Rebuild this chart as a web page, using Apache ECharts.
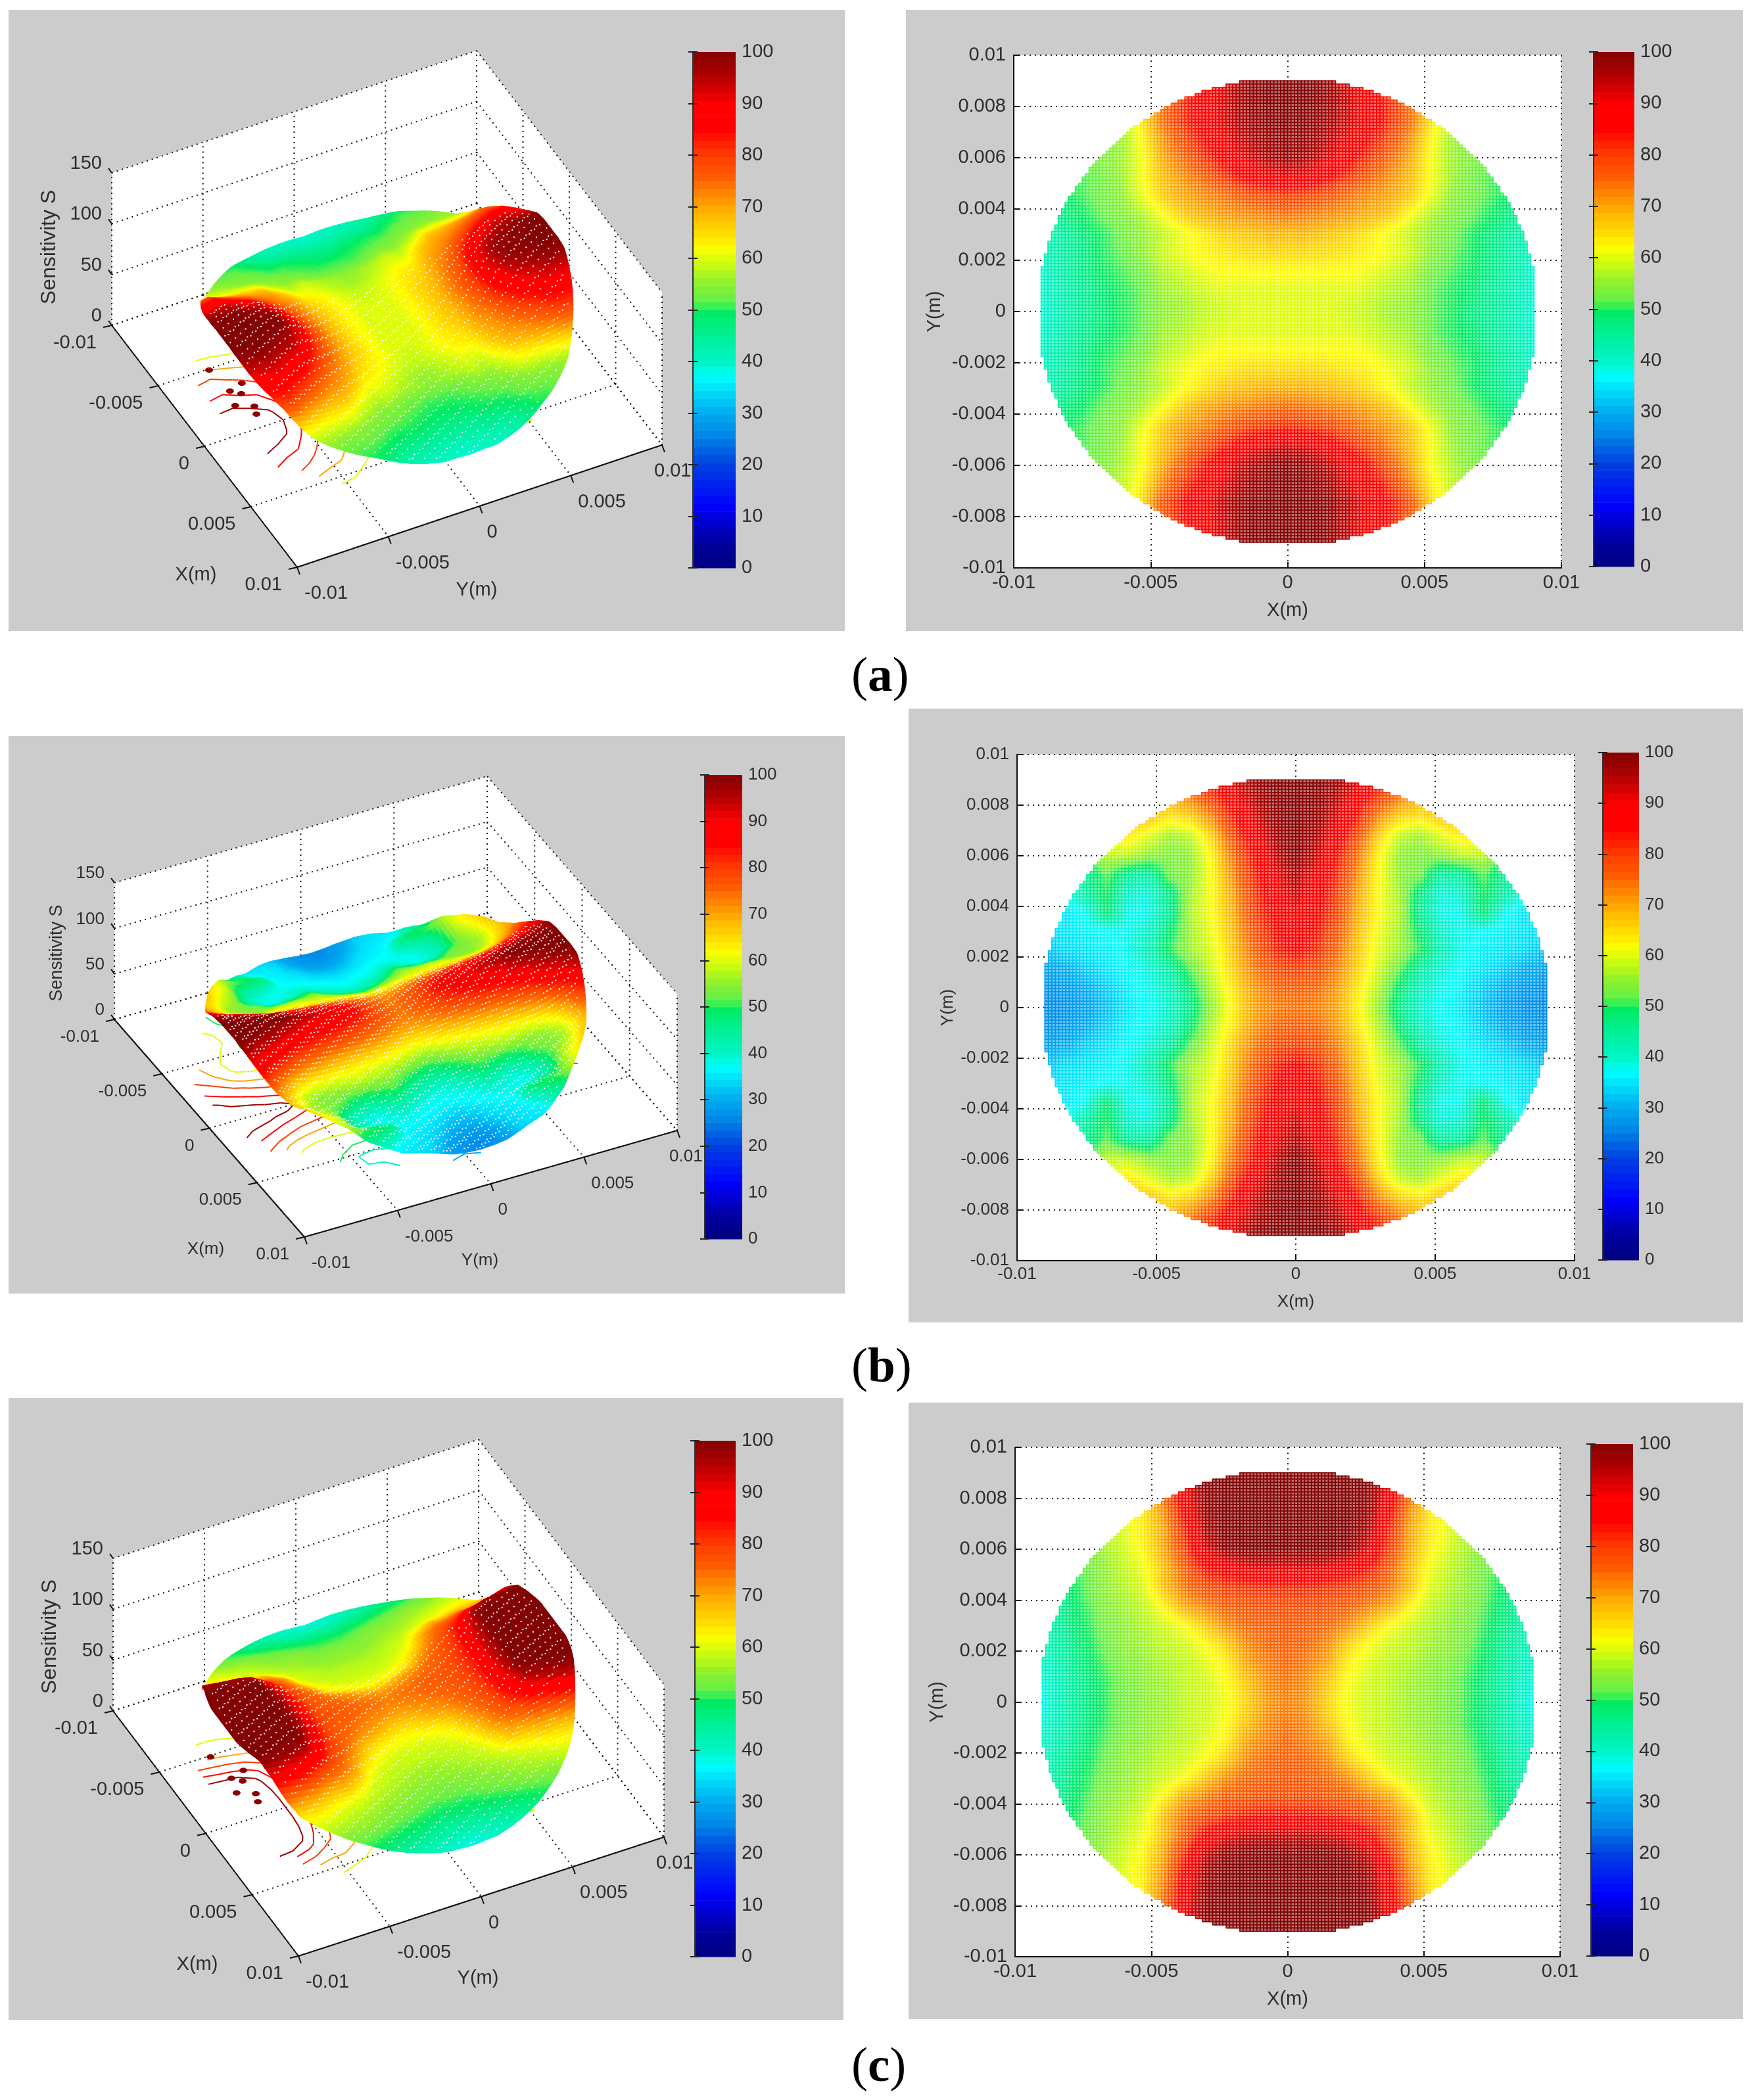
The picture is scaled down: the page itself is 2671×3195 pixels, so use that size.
<!DOCTYPE html>
<html><head><meta charset="utf-8">
<style>html,body{margin:0;background:#fff}#c{width:2671px;height:3195px}</style>
<script src="https://cdn.jsdelivr.net/npm/echarts@6/dist/echarts.min.js"></script>
</head><body><div id="c"></div>
<script>
// Axis ticks
const xTicks = [-0.01, -0.005, 0, 0.005, 0.01];
const zTicks = [0, 50, 100, 150];
const tickLabel = v => String(+(+v).toFixed(3));
// Sample positions of the read-off sensitivity values (metres); rows run from Y=+0.009 to Y=-0.009
const nodes = [-0.009,-0.00825,-0.0075,-0.00675,-0.006,-0.00525,-0.0045,-0.00375,-0.003,-0.00225,-0.0015,-0.00075,0,0.00075,0.0015,0.00225,0.003,0.00375,0.0045,0.00525,0.006,0.00675,0.0075,0.00825,0.009];
const discRadius = 0.0091;
// Colour bar
const cmapStops = [0,5,12,20,25,30,37,40,45,49,50.5,52,55,58,62,66,70,75,80,85,90,93,96,100];
const cmapColors = ['#00007f','#00009f','#0000ff','#0040e0','#0080e6','#00aaf0','#00ffff','#00f5c8','#00f096','#00eb64','#28f05a','#64f046','#8cf032','#befa14','#ffff00','#ffd200','#ffa500','#ff6400','#ff3c00','#ff0000','#ff0000','#d20000','#aa0000','#820000'];
// Sensitivity, panel (a)
const fieldA = [
[50,50,52,54,56,60,68,78,86,92,98,100,100,100,98,92,86,78,68,60,56,54,52,50,50],
[50,50,52,54,56,64,74,82,88,93,98,100,100,100,98,93,88,82,74,64,56,54,52,50,50],
[49,50,52,54,56,65,75,82,88,93,97,99,100,99,97,93,88,82,75,65,56,54,52,50,49],
[49,50,52,54,56,63,72,79,85,91,95,98,99,98,95,91,85,79,72,63,56,54,52,50,49],
[48,50,52,54,56,62,70,75,81,87,92,96,98,96,92,87,81,75,70,62,56,54,52,50,48],
[47,49,51,53,56,62,68,72,76,81,86,90,91,90,86,81,76,72,68,62,56,53,51,49,47],
[45,48,51,53,55,61,67,70,72,74,77,79,80,79,77,74,72,70,67,61,55,53,51,48,45],
[43,46,49,52,54,57,62,67,69,71,72,73,74,73,72,71,69,67,62,57,54,52,49,46,43],
[42,44,47,50,53,55,58,61,64,66,67,68,68,68,67,66,64,61,58,55,53,50,47,44,42],
[41,43,46,50,52,55,59,61,63,64,65,65,65,65,65,64,63,61,59,55,52,50,46,43,41],
[40,43,46,49,51,53,57,59,61,62,62,62,62,62,62,62,61,59,57,53,51,49,46,43,40],
[40,42,45,48,50,52,56,57,59,60,60,60,60,60,60,60,59,57,56,52,50,48,45,42,40],
[39,42,45,47,50,52,55,56,58,59,60,60,60,60,60,59,58,56,55,52,50,47,45,42,39],
[40,42,45,48,50,52,56,57,59,60,60,60,60,60,60,60,59,57,56,52,50,48,45,42,40],
[40,43,46,49,51,53,57,59,61,62,62,62,62,62,62,62,61,59,57,53,51,49,46,43,40],
[41,43,46,50,52,55,59,61,63,64,65,65,65,65,65,64,63,61,59,55,52,50,46,43,41],
[42,44,47,50,53,55,58,62,65,67,68,69,69,69,68,67,65,62,58,55,53,50,47,44,42],
[43,46,49,52,54,57,62,67,70,72,73,74,75,74,73,72,70,67,62,57,54,52,49,46,43],
[45,48,51,53,55,61,67,71,73,76,79,81,82,81,79,76,73,71,67,61,55,53,51,48,45],
[47,49,51,53,56,62,68,73,78,83,88,92,93,92,88,83,78,73,68,62,56,53,51,49,47],
[48,50,52,54,57,62,70,77,84,90,95,98,100,98,95,90,84,77,70,62,57,54,52,50,48],
[49,50,52,54,58,64,73,81,87,92,97,99,100,99,97,92,87,81,73,64,58,54,52,50,49],
[49,50,52,54,58,66,78,85,90,95,99,100,100,100,99,95,90,85,78,66,58,54,52,50,49],
[50,50,52,54,57,64,76,84,89,94,99,100,100,100,99,94,89,84,76,64,57,54,52,50,50],
[50,50,52,54,56,60,70,80,88,94,99,100,100,100,99,94,88,80,70,60,56,54,52,50,50]];
// Sensitivity, panel (b)
const fieldB = [
[56,58,60,64,66,68,72,78,85,92,98,100,100,100,98,92,85,78,72,68,66,64,60,58,56],
[56,58,60,64,66,68,70,73,80,88,95,99,100,99,95,88,80,73,70,68,66,64,60,58,56],
[56,58,60,66,70,68,64,66,72,83,92,98,100,98,92,83,72,66,64,68,70,66,60,58,56],
[54,56,58,62,64,60,56,58,66,78,88,96,100,96,88,78,66,58,56,60,64,62,58,56,54],
[48,50,52,58,58,55,54,55,63,74,84,94,100,94,84,74,63,55,54,55,58,58,52,50,48],
[38,40,45,52,45,44,53,55,62,72,82,90,96,90,82,72,62,55,53,44,45,52,45,40,38],
[36,38,44,50,40,39,47,56,62,70,80,88,94,88,80,70,62,56,47,39,40,50,44,38,36],
[34,35,38,48,38,38,45,57,62,69,79,86,90,86,79,69,62,57,45,38,38,48,38,35,34],
[34,35,36,37,38,40,48,56,61,68,77,84,88,84,77,68,61,56,48,40,38,37,36,35,34],
[32,34,35,36,38,42,50,56,60,67,75,82,85,82,75,67,60,56,50,42,38,36,35,34,32],
[29,30,33,35,37,39,44,52,59,66,73,78,80,78,73,66,59,52,44,39,37,35,33,30,29],
[27,28,30,33,36,38,41,48,57,64,71,75,76,75,71,64,57,48,41,38,36,33,30,28,27],
[26,27,29,32,35,37,40,46,55,63,70,73,74,73,70,63,55,46,40,37,35,32,29,27,26],
[27,28,30,33,36,38,41,48,57,64,71,75,76,75,71,64,57,48,41,38,36,33,30,28,27],
[29,30,33,35,37,39,44,52,59,66,73,78,80,78,73,66,59,52,44,39,37,35,33,30,29],
[32,34,35,36,38,42,50,56,60,67,75,82,85,82,75,67,60,56,50,42,38,36,35,34,32],
[34,35,36,37,38,40,48,56,61,68,77,84,88,84,77,68,61,56,48,40,38,37,36,35,34],
[34,35,38,48,38,38,45,57,62,69,79,86,90,86,79,69,62,57,45,38,38,48,38,35,34],
[36,38,44,50,40,39,47,56,62,70,80,88,94,88,80,70,62,56,47,39,40,50,44,38,36],
[38,40,45,52,45,44,53,55,62,72,82,90,96,90,82,72,62,55,53,44,45,52,45,40,38],
[48,50,52,58,58,55,54,55,63,74,84,94,100,94,84,74,63,55,54,55,58,58,52,50,48],
[54,56,58,62,64,60,56,58,66,78,88,96,100,96,88,78,66,58,56,60,64,62,58,56,54],
[56,58,60,66,70,68,64,66,72,83,92,98,100,98,92,83,72,66,64,68,70,66,60,58,56],
[56,58,60,64,66,68,70,73,80,88,95,99,100,99,95,88,80,73,70,68,66,64,60,58,56],
[56,58,60,64,66,68,72,78,85,92,98,100,100,100,98,92,85,78,72,68,66,64,60,58,56]];
// Sensitivity, panel (c)
const fieldC = [
[52,54,56,58,60,70,80,92,100,100,100,100,100,100,100,100,100,92,80,70,60,58,56,54,52],
[52,54,56,58,60,66,76,90,99,100,100,100,100,100,100,100,99,90,76,66,60,58,56,54,52],
[50,52,54,58,60,64,72,86,98,100,100,100,100,100,100,100,98,86,72,64,60,58,54,52,50],
[48,50,53,57,60,64,70,82,96,100,100,100,100,100,100,100,96,82,70,64,60,57,53,50,48],
[47,49,52,56,59,63,70,80,92,99,100,100,100,100,100,99,92,80,70,63,59,56,52,49,47],
[45,48,52,55,58,61,68,76,84,88,91,92,92,92,91,88,84,76,68,61,58,55,52,48,45],
[44,47,51,55,57,60,68,74,78,80,81,82,82,82,81,80,78,74,68,60,57,55,51,47,44],
[43,46,50,54,56,58,63,70,73,76,77,78,78,78,77,76,73,70,63,58,56,54,50,46,43],
[42,45,49,53,55,57,59,62,67,72,75,76,77,76,75,72,67,62,59,57,55,53,49,45,42],
[41,44,48,52,55,56,58,59,62,66,72,75,76,75,72,66,62,59,58,56,55,52,48,44,41],
[40,43,47,51,54,55,57,58,60,63,70,73,75,73,70,63,60,58,57,55,54,51,47,43,40],
[39,42,46,50,53,55,56,58,59,62,67,72,74,72,67,62,59,58,56,55,53,50,46,42,39],
[38,42,46,50,53,55,56,58,59,61,66,71,73,71,66,61,59,58,56,55,53,50,46,42,38],
[39,42,46,50,53,55,56,58,59,62,67,72,74,72,67,62,59,58,56,55,53,50,46,42,39],
[40,43,47,51,54,55,57,58,60,63,70,73,75,73,70,63,60,58,57,55,54,51,47,43,40],
[41,44,48,52,55,56,58,59,62,66,72,75,76,75,72,66,62,59,58,56,55,52,48,44,41],
[42,45,49,53,55,57,59,62,67,72,75,76,77,76,75,72,67,62,59,57,55,53,49,45,42],
[43,46,50,54,56,58,63,70,73,76,77,78,78,78,77,76,73,70,63,58,56,54,50,46,43],
[44,47,51,55,57,60,68,74,78,81,83,84,84,84,83,81,78,74,68,60,57,55,51,47,44],
[45,48,52,55,58,61,68,76,86,90,93,94,94,94,93,90,86,76,68,61,58,55,52,48,45],
[47,49,52,56,59,63,70,82,94,99,100,100,100,100,100,99,94,82,70,63,59,56,52,49,47],
[48,50,53,57,60,64,72,86,97,100,100,100,100,100,100,100,97,86,72,64,60,57,53,50,48],
[50,52,54,58,60,64,74,88,98,100,100,100,100,100,100,100,98,88,74,64,60,58,54,52,50],
[52,54,56,58,60,66,76,90,99,100,100,100,100,100,100,100,99,90,76,66,60,58,56,54,52],
[52,54,56,58,60,70,80,92,100,100,100,100,100,100,100,100,100,92,80,70,60,58,56,54,52]];
const contourLevelsHot = [60,70,80,90,97];
const contourLevelsAll = [30,40,50,60,70,80,90,97];
// Dark-red flecks on the floor of (a) and (c), as [X, Y]
const flecks = [[-0.00333,-0.00626],[-0.002,-0.0073],[-0.00154,-0.00648],[-0.00307,-0.00704],[-0.00265,-0.00664],[-0.00491,-0.00725],[-0.00097,-0.00666]];

const labelFamily = '"Liberation Sans",Arial,sans-serif';
const textCol = '#2e2e2e';

// Layouts (pixels on the page)
const surfaces = [
 {field:fieldA, levels:contourLevelsHot, contourR:0.0085, flecks, gray:[13,15,1272,945], origin:[170,495], ex:[282,368], ey:[555,-186], ez:-232, bar:[1054,79,65,785], font:29, zFont:32, xName:[-154,12], yName:[273,35], zName:[-95,-119], dot:2, dotRate:3},
 {field:fieldB, levels:contourLevelsAll, contourR:0.009, flecks:[], gray:[13,1120,1272,848], origin:[174,1551], ex:[289,331], ey:[567,-162], ez:-208, bar:[1072,1179,57,706], font:26, zFont:27, xName:[-150,19], yName:[267,36], zName:[-87,-101], dot:2, dotRate:5},
 {field:fieldC, levels:contourLevelsHot, contourR:0.0085, flecks, gray:[13,2127,1270,946], origin:[172,2603], ex:[282,373], ey:[556,-181], ez:-232, bar:[1057,2192,62,785], font:29, zFont:32, xName:[-154,13], yName:[273,34], zName:[-96,-113], dot:2, dotRate:3}];
const maps = [
 {field:fieldA, gray:[1378,15,1273,945], plot:[1542,84,833,780], bar:[2424,79,62,783], font:29, xGap:50, yGap:106},
 {field:fieldB, gray:[1382,1078,1269,934], plot:[1547,1148,848,770], bar:[2438,1145,55,772], font:26, xGap:50, yGap:92},
 {field:fieldC, gray:[1382,2134,1269,938], plot:[1544,2202,829,775], bar:[2420,2197,64,779], font:29, xGap:50, yGap:104}];
const captions = [['a',1290,989],['b',1290,2040],['c',1290,3104]];

// Colour lookup
const hex = h => [1,3,5].map(i => parseInt(h.substr(i,2),16));
const lut = [];
for (let i=0;i<=200;i++){
  const v=i/2; let k=0; while(k<cmapStops.length-2 && v>cmapStops[k+1]) k++;
  const t=(v-cmapStops[k])/(cmapStops[k+1]-cmapStops[k]), A=hex(cmapColors[k]), B=hex(cmapColors[k+1]);
  const c=A.map((a,j)=>Math.round(a+(B[j]-a)*t));
  lut.push({s:`rgb(${c})`, l:`rgb(${c.map(a=>Math.round(a+(255-a)*0.45))})`});
}
const colorOf = v => lut[Math.round(Math.max(0,Math.min(100,v))*2)];

const step = nodes[1]-nodes[0];
function sample(F,x,y){
  let fc=(x-nodes[0])/step, fr=(-y-nodes[0])/step;
  fc=Math.max(0,Math.min(23.9999,fc)); fr=Math.max(0,Math.min(23.9999,fr));
  const c=Math.floor(fc), r=Math.floor(fr), s=fc-c, t=fr-r;
  return (F[r][c]*(1-s)+F[r][c+1]*s)*(1-t)+(F[r+1][c]*(1-s)+F[r+1][c+1]*s)*t;
}
function cellsOf(F){
  const out=[];
  for(let c=0;c<24;c++) for(let r=0;r<24;r++){
    const xs=[nodes[c],nodes[c+1]], ys=[nodes[r],nodes[r+1]];
    const near=Math.hypot(Math.min(Math.abs(xs[0]),Math.abs(xs[1])),Math.min(Math.abs(ys[0]),Math.abs(ys[1])));
    if(near<discRadius) out.push([nodes[c],-nodes[r],F[r][c],c,r]);
  }
  return out;
}

const grid=[],xAxis=[],yAxis=[],series=[],graphic=[],title=[];
const hidden={show:false};
const labelStyle=font=>({fontFamily:labelFamily,fontSize:font,color:textCol});

function addColorbar(b,font){
  const g=grid.length;
  grid.push({left:b[0],top:b[1],width:b[2],height:b[3],show:false});
  xAxis.push({type:'value',gridIndex:g,min:0,max:1,show:false});
  const yi=yAxis.length;
  const ybase={type:'value',gridIndex:g,min:0,max:100,interval:10,z:6,splitLine:hidden,
    axisTick:{show:true,inside:true,length:7,lineStyle:{color:'#222',width:2}}};
  yAxis.push({...ybase,position:'right',axisLine:{show:true,lineStyle:{color:'#333',width:2}},
    axisLabel:{show:true,margin:9,padding:[4,0,0,0],...labelStyle(font)}});
  yAxis.push({...ybase,position:'left',axisLine:hidden,axisLabel:hidden});
  const bands=[]; for(let i=0;i<64;i++) bands.push([0.5,(i+0.5)*100/64]);
  series.push({type:'custom',xAxisIndex:xAxis.length-1,yAxisIndex:yi,data:bands,silent:true,z:3,
    renderItem(p,api){
      const v=api.value(1), a=api.coord([0,v-50/64]), d=api.coord([1,v+50/64]);
      return {type:'rect',shape:{x:a[0],y:d[1],width:d[0]-a[0],height:a[1]-d[1]+0.6},style:{fill:colorOf(v).s}};
    }});
}

maps.forEach(m=>{
  graphic.push({type:'rect',z:-100,silent:true,shape:{x:m.gray[0],y:m.gray[1],width:m.gray[2],height:m.gray[3]},style:{fill:'#cccccc'}});
  const g=grid.length, p=m.plot;
  grid.push({left:p[0],top:p[1],width:p[2],height:p[3],show:true,backgroundColor:'#fff',borderWidth:0});
  const ax={gridIndex:g,type:'value',min:-0.01,max:0.01,
    axisLine:{show:true,onZero:false,lineStyle:{color:'#111',width:2}},
    axisTick:{show:true,inside:true,length:9,lineStyle:{color:'#111',width:2}},
    splitLine:{show:true,lineStyle:{color:'#222',type:[2,6],width:2}},
    nameLocation:'middle',nameTextStyle:labelStyle(m.font),
    axisLabel:{formatter:tickLabel,...labelStyle(m.font),hideOverlap:false,showMinLabel:true,showMaxLabel:true}};
  xAxis.push({...ax,interval:0.005,name:'X(m)',nameGap:m.xGap,axisLabel:{...ax.axisLabel,margin:8}});
  yAxis.push({...ax,interval:0.002,name:'Y(m)',nameGap:m.yGap,axisLabel:{...ax.axisLabel,margin:12,padding:[3,0,0,0]}});
  const F=m.field, n=6, R2=discRadius*discRadius;
  series.push({type:'custom',xAxisIndex:xAxis.length-1,yAxisIndex:yAxis.length-1,data:cellsOf(F),silent:true,z:3,
    renderItem(q,api){
      const c=api.value(3), r=api.value(4);
      const a=api.coord([nodes[c],-nodes[r]]), b=api.coord([nodes[c+1],-nodes[r+1]]);
      const w=(b[0]-a[0])/n, h=(b[1]-a[1])/n, kids=[];
      for(let i=0;i<n;i++) for(let j=0;j<n;j++){
        const s=(i+.5)/n, t=(j+.5)/n, x=nodes[c]+s*step, y=-(nodes[r]+t*step);
        if(x*x+y*y>R2) continue;
        const v=(F[r][c]*(1-s)+F[r][c+1]*s)*(1-t)+(F[r+1][c]*(1-s)+F[r+1][c+1]*s)*t, col=colorOf(v);
        kids.push({type:'rect',shape:{x:a[0]+i*w,y:a[1]+j*h,width:w,height:h},style:{fill:col.l,stroke:col.s,lineWidth:1.7}});
      }
      return {type:'group',children:kids};
    }});
  addColorbar(m.bar,m.font);
});

surfaces.forEach(S=>{
  const G=S.gray;
  graphic.push({type:'rect',z:-100,silent:true,shape:{x:G[0],y:G[1],width:G[2],height:G[3]},style:{fill:'#cccccc'}});
  const g=grid.length;
  grid.push({left:G[0],top:G[1],width:G[2],height:G[3],show:false});
  xAxis.push({type:'value',gridIndex:g,min:G[0],max:G[0]+G[2],show:false});
  yAxis.push({type:'value',gridIndex:g,min:G[1],max:G[1]+G[3],inverse:true,show:false});
  const xi=xAxis.length-1, yi=yAxis.length-1;
  const P=(x,y,z)=>{
    const a=(x+0.01)/0.02,b=(y+0.01)/0.02;
    return [S.origin[0]+a*S.ex[0]+b*S.ey[0], S.origin[1]+a*S.ex[1]+b*S.ey[1]+z/150*S.ez];
  };
  const dotted={stroke:'#111',lineWidth:2,lineDash:[2,6]}, solid={stroke:'#111',lineWidth:2};
  series.push({type:'custom',xAxisIndex:xi,yAxisIndex:yi,data:[[0,0]],silent:true,z:2,
    renderItem(q,api){
      const C=p=>api.coord(p), kids=[];
      const line=(a,b,style)=>{a=C(a);b=C(b);kids.push({type:'line',shape:{x1:a[0],y1:a[1],x2:b[0],y2:b[1]},style});};
      const lo=-0.01,hi=0.01,top=150;
      kids.push({type:'polygon',shape:{points:[P(lo,lo,top),P(lo,hi,top),P(hi,hi,top),P(hi,hi,0),P(hi,lo,0),P(lo,lo,0)].map(C)},style:{fill:'#fff'}});
      xTicks.forEach(t=>{line(P(t,lo,0),P(t,hi,0),dotted);line(P(t,hi,0),P(t,hi,top),dotted);});
      xTicks.forEach(t=>{line(P(lo,t,0),P(hi,t,0),dotted);line(P(lo,t,0),P(lo,t,top),dotted);});
      zTicks.forEach(z=>{line(P(lo,lo,z),P(lo,hi,z),dotted);line(P(lo,hi,z),P(hi,hi,z),dotted);});
      line(P(lo,lo,0),P(hi,lo,0),solid);line(P(hi,lo,0),P(hi,hi,0),solid);
      const font=`${S.font}px ${labelFamily}`;
      const text=(p,str,align,extra,f2)=>{const a=C(p);kids.push({type:'text',x:a[0],y:a[1],...extra,style:{text:str,font:f2||font,fill:textCol,align,verticalAlign:'middle'}});};
      xTicks.forEach(t=>{
        const p=P(t,lo,0);
        line(p,[p[0]-13,p[1]+3],solid);
        text([p[0]-23,p[1]+27],tickLabel(t),'right');
      });
      xTicks.forEach((t,i)=>{
        const p=P(hi,t,0);
        line(p,[p[0]+4,p[1]+11],solid);
        text([p[0]+(i===4?-12:11),p[1]+40],tickLabel(t),'left');
      });
      zTicks.forEach(z=>{
        const p=P(lo,lo,z);
        line(p,[p[0]-5,p[1]-7],solid);
        text([p[0]-15,p[1]-14],String(z),'right');
      });
      const f=P(hi,lo,0), o=P(lo,lo,0);
      text([f[0]+S.xName[0],f[1]+S.xName[1]],'X(m)','center');
      text([f[0]+S.yName[0],f[1]+S.yName[1]],'Y(m)','center');
      text([o[0]+S.zName[0],o[1]+S.zName[1]],'Sensitivity S','center',{rotation:Math.PI/2},`${S.zFont}px ${labelFamily}`);
      return {type:'group',children:kids};
    }});
  const F=S.field;
  // Floor contours
  series.push({type:'custom',xAxisIndex:xi,yAxisIndex:yi,data:S.levels.map(l=>[0,0,l]),silent:true,z:3,
    renderItem(q,api){
      const L=api.value(2), kids=[], stroke=colorOf(L).s;
      for(let c=0;c<24;c++) for(let r=0;r<24;r++){
        const v=[F[r][c],F[r][c+1],F[r+1][c+1],F[r+1][c]];
        const corner=[[nodes[c],-nodes[r]],[nodes[c+1],-nodes[r]],[nodes[c+1],-nodes[r+1]],[nodes[c],-nodes[r+1]]];
        const pts=[];
        for(let e=0;e<4;e++){
          const a=v[e],b=v[(e+1)%4];
          if((a<L)!==(b<L)){
            const t=(L-a)/(b-a), A=corner[e], B=corner[(e+1)%4];
            pts.push([A[0]+(B[0]-A[0])*t,A[1]+(B[1]-A[1])*t]);
          }
        }
        for(let k=0;k+1<pts.length;k+=2){
          const m=[(pts[k][0]+pts[k+1][0])/2,(pts[k][1]+pts[k+1][1])/2];
          if(Math.hypot(m[0]+0.0015,m[1])>S.contourR) continue;
          const a=api.coord(P(pts[k][0],pts[k][1],0)), b=api.coord(P(pts[k+1][0],pts[k+1][1],0));
          kids.push({type:'line',shape:{x1:a[0],y1:a[1],x2:b[0],y2:b[1]},style:{stroke,lineWidth:2}});
        }
      }
      return {type:'group',children:kids};
    }});
  // Floor flecks
  if(S.flecks.length) series.push({type:'custom',xAxisIndex:xi,yAxisIndex:yi,data:S.flecks,silent:true,z:3,
    renderItem(q,api){
      const a=api.coord(P(api.value(0),api.value(1),0));
      return {type:'ellipse',shape:{cx:a[0],cy:a[1],rx:6,ry:4},style:{fill:'#8b0000'}};
    }});
  // Surface, painted from the far corner to the near corner
  const n=4;
  series.push({type:'custom',xAxisIndex:xi,yAxisIndex:yi,data:cellsOf(F),silent:true,z:4,
    renderItem(q,api){
      const c=api.value(3), r=api.value(4), kids=[], dots=[], mesh=[];
      for(let i=0;i<=n;i++){ const col=[];
        for(let j=0;j<=n;j++){
          let x=nodes[c]+i/n*step, y=-(nodes[r]+j/n*step);
          const d=Math.hypot(x,y), out=d>discRadius;
          if(out){x*=discRadius/d;y*=discRadius/d;}
          const z=sample(F,x,y);
          col.push({x,y,z,out,p:api.coord(P(x,y,z))});
        }
        mesh.push(col);
      }
      for(let i=0;i<n;i++) for(let j=0;j<n;j++){
        const q4=[mesh[i][j],mesh[i+1][j],mesh[i+1][j+1],mesh[i][j+1]];
        if(q4.every(a=>a.out)) continue;
        const col=colorOf((q4[0].z+q4[1].z+q4[2].z+q4[3].z)/4).s;
        kids.push({type:'polygon',shape:{points:q4.map(a=>a.p)},style:{fill:col,stroke:col,lineWidth:1}});
        const A=q4[0];
        if(!A.out && A.x>-0.003 && Math.hypot(A.x,A.y)<discRadius*0.97 && (((c*n+i)*7+(r*n+j)*13)%11<S.dotRate))
          dots.push({type:'rect',shape:{x:A.p[0],y:A.p[1],width:S.dot,height:S.dot},style:{fill:'#fff'}});
      }
      return {type:'group',children:kids.concat(dots)};
    }});
  addColorbar(S.bar,S.font);
});

captions.forEach(c=>{
  const base={fontFamily:'"Liberation Serif",serif',fontSize:75,color:'#000'};
  title.push({left:c[1],top:c[2],text:`{p|(}{b|${c[0]}}{p|)}`,
    textStyle:{fontWeight:'normal',rich:{p:{...base,fontWeight:'normal'},b:{...base,fontWeight:'bold'}}}});
});

const chart=echarts.init(document.getElementById('c'),null,{renderer:'canvas'});
chart.setOption({animation:false,backgroundColor:'#fff',title,grid,xAxis,yAxis,series,graphic:{elements:graphic},tooltip:{show:false}});
</script></body></html>
